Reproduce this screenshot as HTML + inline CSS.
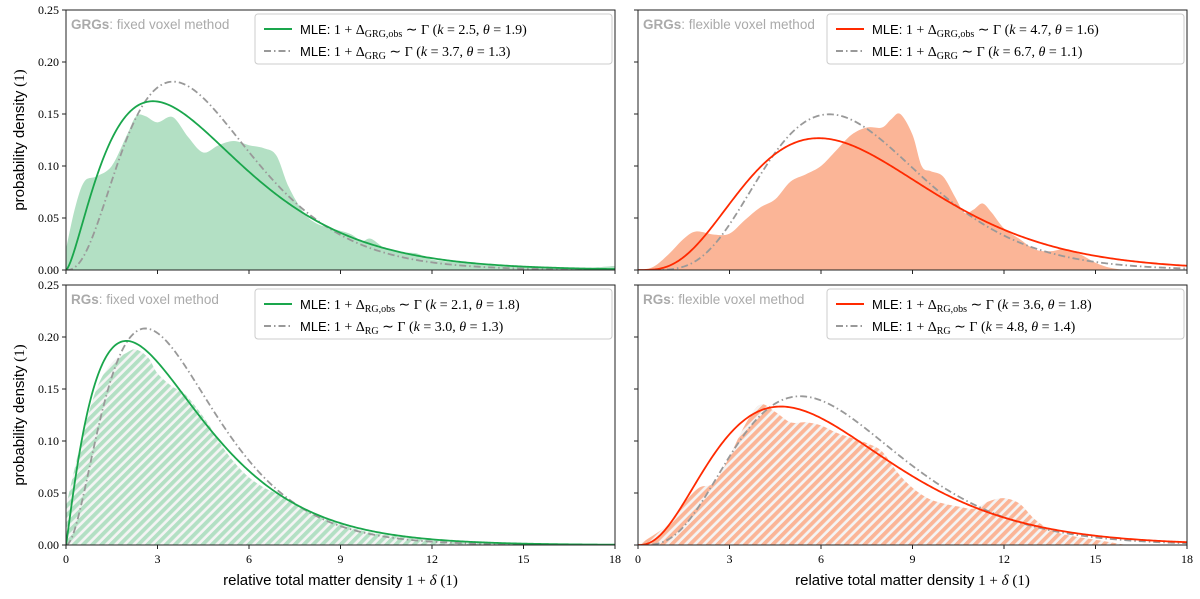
<!DOCTYPE html>
<html><head><meta charset="utf-8"><style>
body{margin:0;background:#fff;width:1200px;height:594px;overflow:hidden}
svg text{font-family:"Liberation Serif",serif}
.sans{font-family:"Liberation Sans",sans-serif}
</style></head><body>
<svg id="c" width="1200" height="594" xmlns="http://www.w3.org/2000/svg">
<defs>
<pattern id="hg" patternUnits="userSpaceOnUse" width="6.5" height="6.5" patternTransform="rotate(45)"><rect width="6.5" height="6.5" fill="#f4f4f4"/><rect width="3.8" height="6.5" fill="#b3e0c4"/></pattern>
<pattern id="ho" patternUnits="userSpaceOnUse" width="6.5" height="6.5" patternTransform="rotate(45)"><rect width="6.5" height="6.5" fill="#f4f4f4"/><rect width="3.8" height="6.5" fill="#fbb597"/></pattern>
</defs>
</svg>
<script>
const xTicks=[0,3,6,9,12,15,18];
const yTicks=[0,0.05,0.10,0.15,0.20,0.25];
const yTickLabels=["0.00","0.05","0.10","0.15","0.20","0.25"];
const kdeX_TL=[0,0.3,0.6,1,1.5,2,2.3,2.6,3,3.5,4,4.5,5,5.5,6,6.5,6.9,7.3,7.8,8.2,8.7,9.3,9.7,10,10.5,11,11.5,12,13,14,15,16,17,18];
const kdeY_TL=[0.02,0.06,0.085,0.09,0.1,0.13,0.148,0.148,0.142,0.147,0.128,0.113,0.12,0.124,0.12,0.117,0.11,0.08,0.055,0.045,0.04,0.035,0.028,0.03,0.02,0.017,0.016,0.01,0.007,0.004,0.003,0.003,0.002,0.004];
const kdeX_TR=[0,0.5,1,1.5,1.9,2.5,3,3.5,4,4.5,5,5.5,6,6.5,7,7.5,8,8.3,8.6,9,9.3,9.6,10,10.4,10.7,11,11.3,11.6,12,12.5,13,13.5,14,14.5,15,15.5,16];
const kdeY_TR=[0,0.003,0.015,0.03,0.037,0.034,0.035,0.048,0.06,0.068,0.085,0.092,0.1,0.115,0.13,0.137,0.137,0.145,0.15,0.13,0.1,0.095,0.09,0.07,0.055,0.058,0.064,0.055,0.04,0.03,0.02,0.018,0.02,0.015,0.007,0.002,0];
const kdeX_BL=[0,0.5,1,1.5,2,2.3,2.7,3,3.5,3.8,4.2,4.7,5,5.5,6,6.5,7,7.5,8,9,10,11,12,13,14,15,16,18];
const kdeY_BL=[0.037,0.1,0.15,0.175,0.185,0.188,0.18,0.165,0.152,0.148,0.135,0.115,0.1,0.08,0.065,0.055,0.048,0.04,0.032,0.02,0.012,0.008,0.005,0.003,0.002,0.001,0.001,0];
const kdeX_BR=[0,1,1.5,2,2.5,3,3.5,4,4.5,5,5.5,6,6.5,7,7.5,8,8.5,9,9.5,10,10.5,11,11.5,12,12.5,13,13.5,14,15,16];
const kdeY_BR=[0,0.02,0.04,0.055,0.06,0.085,0.115,0.135,0.128,0.118,0.118,0.115,0.108,0.103,0.098,0.09,0.07,0.055,0.045,0.04,0.037,0.035,0.042,0.045,0.04,0.025,0.015,0.01,0.005,0];
const fitObsK=[2.5,4.7,2.1,3.6], fitObsT=[1.9,1.6,1.8,1.8];
const fitK=[3.7,6.7,3.0,4.8], fitT=[1.3,1.1,1.3,1.4];

const NS="http://www.w3.org/2000/svg";
const svg=document.getElementById('c');
function mk(tag,at,parent){const e=document.createElementNS(NS,tag);for(const k in at)e.setAttribute(k,at[k]);(parent||svg).appendChild(e);return e;}
function lgamma(z){const g=7,c=[0.99999999999980993,676.5203681218851,-1259.1392167224028,771.32342877765313,-176.61502916214059,12.507343278686905,-0.13857109526572012,9.9843695780195716e-6,1.5056327351493116e-7];z-=1;let x=c[0];for(let i=1;i<9;i++)x+=c[i]/(z+i);const t=z+g+0.5;return 0.5*Math.log(2*Math.PI)+(z+0.5)*Math.log(t)-t+Math.log(x);}
function gpdf(x,k,t){if(x<=0)return 0;return Math.exp((k-1)*Math.log(x)-x/t-lgamma(k)-k*Math.log(t));}

const panels=[
 {x0:66,x1:615,y0:10,y1:270,kx:kdeX_TL,ky:kdeY_TL,fill:"#b3e0c4",col:"#1aa64c",lab:"GRGs",meth:"fixed voxel method",sub:"GRG",xl:false,yl:true,name:"grg-fixed"},
 {x0:638,x1:1187,y0:10,y1:270,kx:kdeX_TR,ky:kdeY_TR,fill:"#fbb597",col:"#ff2a00",lab:"GRGs",meth:"flexible voxel method",sub:"GRG",xl:false,yl:false,name:"grg-flexible"},
 {x0:66,x1:615,y0:285,y1:545,kx:kdeX_BL,ky:kdeY_BL,fill:"url(#hg)",col:"#1aa64c",lab:"RGs",meth:"fixed voxel method",sub:"RG",xl:true,yl:true,name:"rg-fixed"},
 {x0:638,x1:1187,y0:285,y1:545,kx:kdeX_BR,ky:kdeY_BR,fill:"url(#ho)",col:"#ff2a00",lab:"RGs",meth:"flexible voxel method",sub:"RG",xl:true,yl:false,name:"rg-flexible"}];

panels.forEach((p,i)=>{
 const g=mk('g',{});
 
 
 const sx=v=>p.x0+(p.x1-p.x0)*v/18, sy=v=>p.y1-(p.y1-p.y0)*v/0.25;
 mk('clipPath',{id:'cp'+i},g).appendChild(document.createElementNS(NS,'rect'));
 const cr=g.querySelector('clipPath rect');cr.setAttribute('x',p.x0);cr.setAttribute('y',p.y0);cr.setAttribute('width',p.x1-p.x0);cr.setAttribute('height',p.y1-p.y0);
 const pts=p.kx.map((x,j)=>[sx(x),sy(p.ky[j])]);
 let d=`M${pts[0][0]},${sy(0)} L${pts[0][0]},${pts[0][1]}`;
 for(let j=0;j<pts.length-1;j++){const a=pts[j-1]||pts[j],b=pts[j],c=pts[j+1],e=pts[j+2]||c;
  d+=` C${b[0]+(c[0]-a[0])/6},${b[1]+(c[1]-a[1])/6} ${c[0]-(e[0]-b[0])/6},${c[1]-(e[1]-b[1])/6} ${c[0]},${c[1]}`;}
 d+=` L${pts[pts.length-1][0]},${sy(0)} Z`;
 const area=mk('path',{d:d,fill:p.fill,'clip-path':`url(#cp${i})`},g);
 
 
 function curve(k,t){let s='';for(let n=0;n<=360;n++){const x=18*n/360;s+=(n?'L':'M')+sx(x).toFixed(2)+','+sy(gpdf(x,k,t)).toFixed(2);}return s;}
 const gd=mk('path',{d:curve(fitK[i],fitT[i]),fill:'none',stroke:'#999','stroke-width':1.8,'stroke-dasharray':'7,3,1.5,3','clip-path':`url(#cp${i})`},g);
 
 
 const go=mk('path',{d:curve(fitObsK[i],fitObsT[i]),fill:'none',stroke:p.col,'stroke-width':1.8,'clip-path':`url(#cp${i})`},g);
 
 
 mk('rect',{x:p.x0,y:p.y0,width:p.x1-p.x0,height:p.y1-p.y0,fill:'none',stroke:'#222','stroke-width':1},g);
 xTicks.forEach(t=>{mk('line',{x1:sx(t),x2:sx(t),y1:p.y1,y2:p.y1+4,stroke:'#222'},g);
  if(p.xl){const tx=mk('text',{x:sx(t),y:p.y1+18,'text-anchor':'middle','font-size':12},g);tx.textContent=t;
   
   }});
 yTicks.forEach((t,j)=>{mk('line',{x1:p.x0-4,x2:p.x0,y1:sy(t),y2:sy(t),stroke:'#222'},g);
  if(p.yl){const tx=mk('text',{x:p.x0-7,y:sy(t)+4,'text-anchor':'end','font-size':12},g);tx.textContent=yTickLabels[j];
   
   }});
 const tt=mk('text',{x:p.x0+5,y:p.y0+19,'font-size':13.5,fill:'#aaa',class:'sans'},g);
 tt.innerHTML=`<tspan font-weight="bold">${p.lab}</tspan>: ${p.meth}`;
 
 
 const lx=p.x1-360,ly=p.y0+4;
 const lg=mk('g',{},g);
 
 
 mk('rect',{x:lx,y:ly,width:357,height:50,rx:3,fill:'#fff',stroke:'#ccc'},lg);
 mk('line',{x1:lx+9,x2:lx+37,y1:ly+15,y2:ly+15,stroke:p.col,'stroke-width':2},lg);
 mk('line',{x1:lx+9,x2:lx+37,y1:ly+37,y2:ly+37,stroke:'#999','stroke-width':2,'stroke-dasharray':'7,3,1.5,3'},lg);
 const t1=mk('text',{x:lx+45,y:ly+20,'font-size':14},lg);
 t1.innerHTML=`<tspan class="sans" font-size="13">MLE:</tspan> 1 + Δ<tspan font-size="10" dy="3">${p.sub},obs</tspan><tspan dy="-3"> ∼ Γ (</tspan><tspan font-style="italic">k</tspan> = ${fitObsK[i].toFixed(1)}, <tspan font-style="italic">θ</tspan> = ${fitObsT[i].toFixed(1)})`;
 
 
 const t2=mk('text',{x:lx+45,y:ly+42,'font-size':14},lg);
 t2.innerHTML=`<tspan class="sans" font-size="13">MLE:</tspan> 1 + Δ<tspan font-size="10" dy="3">${p.sub}</tspan><tspan dy="-3"> ∼ Γ (</tspan><tspan font-style="italic">k</tspan> = ${fitK[i].toFixed(1)}, <tspan font-style="italic">θ</tspan> = ${fitT[i].toFixed(1)})`;
 
 
 if(p.xl){const xt=mk('text',{x:(p.x0+p.x1)/2,y:585,'text-anchor':'middle','font-size':15},g);
  xt.innerHTML=`<tspan class="sans">relative total matter density</tspan> 1 + <tspan font-style="italic">δ</tspan> (1)`;
  
  }
 if(p.yl){const yt=mk('text',{x:0,y:0,'text-anchor':'middle','font-size':15,transform:`translate(24,${(p.y0+p.y1)/2}) rotate(-90)`},g);
  yt.innerHTML=`<tspan class="sans">probability density</tspan> (1)`;
  
  }
});
</script>
</body></html>
